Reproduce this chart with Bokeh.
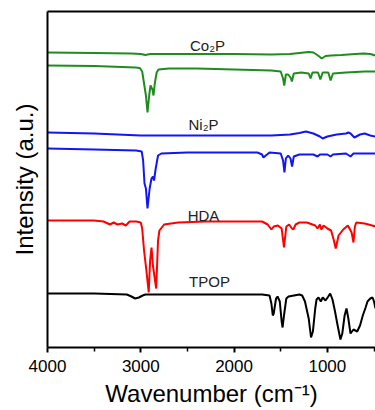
from bokeh.plotting import figure
from bokeh.models import Range1d, FixedTicker, LinearAxis, ColumnDataSource
from bokeh.embed import file_html
from bokeh.resources import INLINE
from bokeh.core.properties import value

# ---------------- data (wavenumber in cm-1, relative intensity in a.u.) -------------
co2p_wn = [4000, 3500, 3100, 3000, 2950, 2900, 2700, 2000, 1600, 1400, 1300, 1200, 1150,
           1100, 1060, 1020, 960, 850, 700, 610, 540, 484]
co2p_int = [0, -0.5, -1, -1.5, -2.5, -1.5, -1.5, -1.5, -2, -1.5, -0.5, 0.5, 0,
            -3, -6, -3.5, -3, -2.5, -1.5, -1, -1.5, -3]

co2p_raw_wn = [4000, 3500, 3200, 3060, 3010, 2985, 2965, 2945, 2928, 2910, 2896, 2875, 2864,
               2850, 2830, 2810, 2700, 2400, 2000, 1600, 1500, 1475, 1462, 1445, 1420, 1395,
               1380, 1360, 1280, 1200, 1180, 1160, 1100, 1075, 1050, 990, 965, 940, 800, 600, 484]
co2p_raw_int = [0, -0.5, -1.5, -2, -2.5, -6, -18, -30, -47, -30, -20, -24, -30,
                -18, -7, -4, -3, -3, -4, -5, -6, -13, -20, -9, -9, -12,
                -16, -8, -7, -8, -13, -7, -7, -14, -7, -7, -15, -8, -7, -6, -6]

ni2p_wn = [4000, 3500, 3000, 2500, 2000, 1600, 1400, 1300, 1230, 1150, 1080, 1050, 1000,
           900, 800, 775, 752, 710, 690, 650, 600, 540, 484]
ni2p_int = [0, -1, -3, -3, -3, -3, -2, -0.5, 1, -1, -4, -6, -4,
            -2, -1, 0, -1, -5, -4, -2, -1, -3, -4]

ni2p_raw_wn = [4000, 3500, 3050, 2990, 2975, 2960, 2945, 2928, 2905, 2885, 2870, 2858, 2840,
               2815, 2780, 2500, 2000, 1750, 1700, 1685, 1660, 1620, 1500, 1475, 1460, 1445,
               1420, 1395, 1378, 1360, 1300, 1150, 1105, 1080, 1000, 966, 940, 800, 752, 720,
               600, 484]
ni2p_raw_int = [0, -1, -2, -3, -12, -35, -40, -60, -40, -30, -28, -32, -20,
                -7, -5, -4, -4, -4, -6, -9, -7, -4, -5, -12, -24, -10,
                -7, -10, -18, -8, -6, -6, -8, -6, -6, -8, -6, -5, -8, -5,
                -5, -5]

hda_wn = [4000, 3500, 3400, 3330, 3290, 3250, 3200, 3160, 3120, 3050, 3000, 2985, 2965,
          2940, 2915, 2900, 2885, 2870, 2835, 2815, 2800, 2750, 2600, 2300, 2000, 1700,
          1640, 1600, 1575, 1530, 1490, 1465, 1440, 1410, 1380, 1365, 1340, 1300, 1220,
          1130, 1105, 1080, 1065, 1040, 1000, 960, 930, 910, 880, 830, 780, 740, 720, 705,
          690, 600, 520, 484]
hda_int = [0, 0, -1, -4, -2, -4, -3, -5, -1, -1, -2, -8, -30,
           -50, -72, -40, -27, -45, -68, -20, -10, -4, -2, -1, -1, -1,
           -4, -9, -6, -5, -8, -27, -6, -4, -8, -9, -4, -2, -2,
           -5, -8, -4, -9, -5, -8, -10, -20, -28, -15, -9, -5, -12, -22, -6,
           -2, -3, -5, -6]

tpop_wn = [4000, 3500, 3150, 3100, 3060, 3020, 2980, 2950, 2500, 2000, 1700, 1620, 1600,
           1585, 1575, 1550, 1534, 1510, 1490, 1480, 1465, 1440, 1416, 1300, 1270, 1240,
           1200, 1175, 1155, 1130, 1116, 1095, 1070, 1050, 1020, 990, 970, 945, 920, 890,
           860, 840, 815, 795, 775, 752, 720, 680, 650, 620, 590, 570, 540, 516, 500, 484]
tpop_int = [0, 0, -1, -3, -5, -4, -2, -1, -1, -1, -1, -2, -10,
            -22, -20, -5, -3, -8, -28, -34, -22, -5, -3, -1, -2, -8,
            -25, -44, -38, -15, -6, -4, -8, -4, -7, -3, 0, -6, -17, -32,
            -46, -40, -22, -15, -25, -40, -36, -38, -32, -22, -14, -8, -5, -4, -8, -15]

series_wn = [co2p_wn, co2p_raw_wn, ni2p_wn, ni2p_raw_wn, hda_wn, tpop_wn]
series_int = [co2p_int, co2p_raw_int, ni2p_int, ni2p_raw_int, hda_int, tpop_int]
series_offset = [295, 282, 215, 199, 127, 54]

label_text = ["Co\u2082P", "Ni\u2082P", "HDA", "TPOP"]
label_wn = [2285, 2328, 2328, 2263]
label_y = [302, 223.5, 132.5, 66]

x_major = [4000, 3000, 2000, 1000]
x_minor = [3500, 2500, 1500, 500]

# ---------------- styling ----------------
colors = ["#1f8c1f", "#1f8c1f", "#1414f5", "#1414f5", "#ff0000", "#000000"]
FONT = "Liberation Sans"

p = figure(width=375, height=410, output_backend="svg", toolbar_location=None,
           x_range=Range1d(4000, 484), y_range=Range1d(0, 336),
           min_border_left=47, min_border_right=0, min_border_top=11, min_border_bottom=63,
           x_axis_label="Wavenumber (cm\u207b\u00b9)", y_axis_label="Intensity (a.u.)")
p.outline_line_color = None
p.grid.visible = False
p.background_fill_color = "white"
p.border_fill_color = "white"

for wn, it, off, c in zip(series_wn, series_int, series_offset, colors):
    ys = [v + off for v in it]
    p.line(wn, ys, line_color=c, line_width=2)

src = ColumnDataSource(dict(x=label_wn, y=label_y, t=label_text))
p.text(x="x", y="y", text="t", source=src, text_align="center", text_baseline="middle",
       text_font=value(FONT), text_font_size="15px", text_color="#222222")

xa = p.xaxis[0]
xa.ticker = FixedTicker(ticks=x_major, minor_ticks=x_minor)
xa.axis_line_width = 2
xa.major_tick_line_width = 2
xa.minor_tick_line_width = 1.5
xa.major_tick_in = 0
xa.major_tick_out = 5
xa.minor_tick_in = 0
xa.minor_tick_out = 4
xa.major_label_text_font = FONT
xa.major_label_text_font_size = "17px"
xa.major_label_text_color = "black"
xa.major_label_standoff = 7
xa.axis_label_text_font = FONT
xa.axis_label_text_font_size = "24px"
xa.axis_label_text_font_style = "normal"
xa.axis_label_text_color = "black"
xa.axis_label_standoff = 5

ya = p.yaxis[0]
ya.ticker = FixedTicker(ticks=[])
ya.axis_line_width = 2
ya.major_tick_out = 0
ya.major_tick_in = 0
ya.minor_tick_out = 0
ya.minor_tick_in = 0
ya.major_label_text_font_size = "0px"
ya.axis_label_text_font = FONT
ya.axis_label_text_font_size = "24px"
ya.axis_label_text_font_style = "normal"
ya.axis_label_text_color = "black"
ya.axis_label_standoff = 10

top = LinearAxis(ticker=FixedTicker(ticks=[]), major_tick_out=0, major_tick_in=0,
                 minor_tick_out=0, minor_tick_in=0, major_label_text_font_size="0px",
                 axis_line_width=2)
p.add_layout(top, "above")

html = file_html(p, INLINE)
open("out.html", "w").write(html)
